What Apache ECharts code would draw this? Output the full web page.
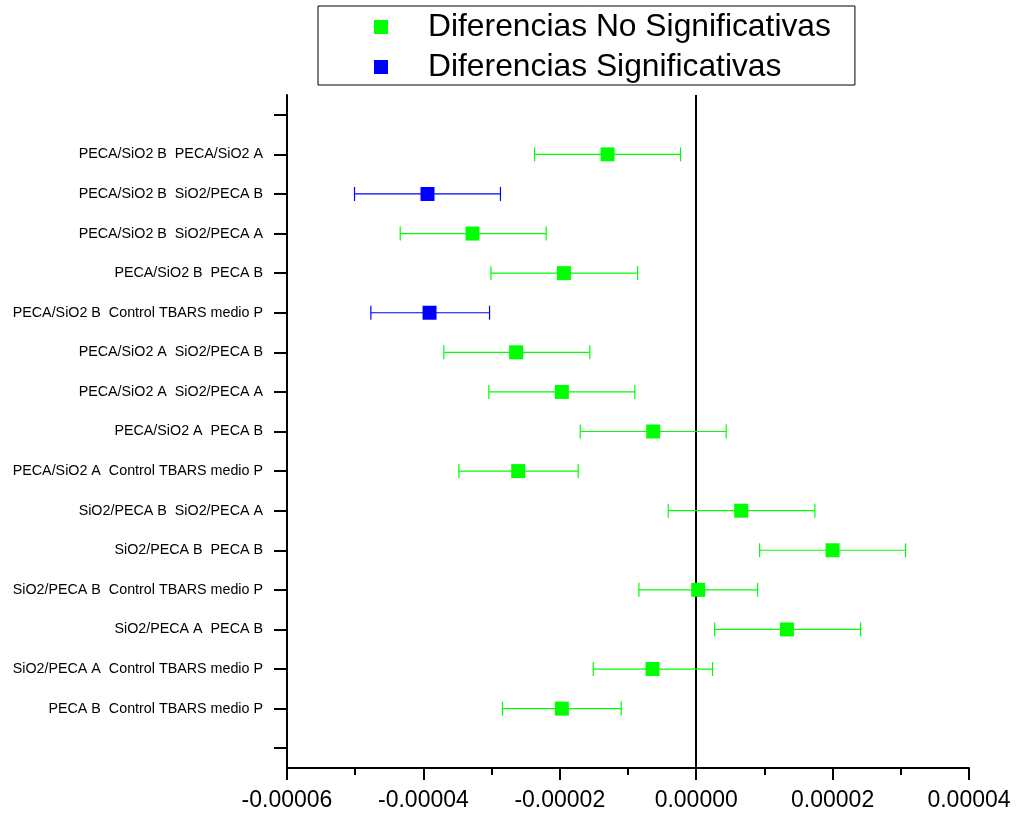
<!DOCTYPE html>
<html>
<head>
<meta charset="utf-8">
<script src="https://cdn.jsdelivr.net/npm/echarts@6/dist/echarts.min.js"></script>
<style>
  html, body { margin: 0; padding: 0; background: #fff; }
  #chart { width: 1023px; height: 820px; }
</style>
</head>
<body>
<div id="chart"></div>
<script>
// comparaciones (de arriba hacia abajo)
const labels = [
  'PECA/SiO2 B  PECA/SiO2 A',
  'PECA/SiO2 B  SiO2/PECA B',
  'PECA/SiO2 B  SiO2/PECA A',
  'PECA/SiO2 B  PECA B',
  'PECA/SiO2 B  Control TBARS medio P',
  'PECA/SiO2 A  SiO2/PECA B',
  'PECA/SiO2 A  SiO2/PECA A',
  'PECA/SiO2 A  PECA B',
  'PECA/SiO2 A  Control TBARS medio P',
  'SiO2/PECA B  SiO2/PECA A',
  'SiO2/PECA B  PECA B',
  'SiO2/PECA B  Control TBARS medio P',
  'SiO2/PECA A  PECA B',
  'SiO2/PECA A  Control TBARS medio P',
  'PECA B  Control TBARS medio P'
]
// diferencia de medias y limites del intervalo
const diff  = [-1.30e-5, -3.94e-5, -3.28e-5, -1.94e-5, -3.91e-5, -2.64e-5, -1.97e-5, -0.63e-5, -2.61e-5, 0.66e-5, 2.00e-5, 0.03e-5, 1.33e-5, -0.64e-5, -1.97e-5]
const lower = [-2.37e-5, -5.01e-5, -4.34e-5, -3.01e-5, -4.77e-5, -3.70e-5, -3.04e-5, -1.70e-5, -3.48e-5, -0.41e-5, 0.93e-5, -0.84e-5, 0.27e-5, -1.51e-5, -2.84e-5]
const upper = [-0.23e-5, -2.87e-5, -2.20e-5, -0.86e-5, -3.03e-5, -1.56e-5, -0.90e-5, 0.44e-5, -1.73e-5, 1.74e-5, 3.07e-5, 0.90e-5, 2.41e-5, 0.24e-5, -1.10e-5]
const significant = [false, true, false, false, true, false, false, false, false, false, false, false, false, false, false]

const xTicks = { min: -0.00006, max: 0.00004, interval: 0.00002 }
const GREEN = '#00ff00'
const BLUE = '#0000ff'

// categorias con un hueco arriba y abajo
const categories = [' '].concat(labels, ['  '])

const nsPoints = [], sPoints = [], bars = []
labels.forEach((name, i) => {
  const row = i + 1 // indice en el eje de categorias
  if (significant[i]) sPoints.push([diff[i], row])
  else nsPoints.push([diff[i], row])
  bars.push({ value: [lower[i], upper[i], row], itemStyle: { color: significant[i] ? BLUE : GREEN } })
})

function renderBar(params, api) {
  const y = api.value(2)
  const a = api.coord([api.value(0), y])
  const b = api.coord([api.value(1), y])
  const c = api.visual('color')
  const h = 7
  const st = { stroke: c, lineWidth: 1.2 }
  return {
    type: 'group',
    children: [
      { type: 'line', shape: { x1: a[0], y1: a[1], x2: b[0], y2: b[1] }, style: st },
      { type: 'line', shape: { x1: a[0], y1: a[1] - h, x2: a[0], y2: a[1] + h }, style: st },
      { type: 'line', shape: { x1: b[0], y1: b[1] - h, x2: b[0], y2: b[1] + h }, style: st }
    ]
  }
}

const chart = echarts.init(document.getElementById('chart'))
chart.setOption({
  animation: false,
  textStyle: { fontFamily: 'Liberation Sans, Arial, sans-serif' },
  legend: {
    orient: 'vertical',
    left: 318,
    top: 6,
    padding: [5, 24, 2, 56],
    borderColor: '#000',
    borderWidth: 1,
    itemWidth: 14,
    itemHeight: 14,
    itemGap: 8,
    icon: 'rect',
    data: ['Diferencias No Significativas', 'Diferencias Significativas'],
    textStyle: { fontSize: 31.8, color: '#000', lineHeight: 31, padding: [0, 0, 0, 35] }
  },
  grid: { left: 287, right: 54, top: 95, bottom: 52 },
  xAxis: {
    type: 'value',
    min: xTicks.min,
    max: xTicks.max,
    interval: xTicks.interval,
    splitLine: { show: false },
    axisLine: { show: true, onZero: false, lineStyle: { color: '#000', width: 2 } },
    axisTick: { show: true, length: 12, lineStyle: { color: '#000', width: 2 } },
    minorTick: { show: true, splitNumber: 2, length: 7, lineStyle: { color: '#000', width: 2 } },
    axisLabel: {
      color: '#000', fontSize: 23, margin: 21,
      formatter: v => (Math.abs(v) < 1e-12 ? 0 : v).toFixed(5)
    }
  },
  yAxis: {
    type: 'category',
    inverse: true,
    data: categories,
    axisLine: { show: true, onZero: false, lineStyle: { color: '#000', width: 2 } },
    axisTick: { show: true, alignWithLabel: true, interval: 0, length: 13, lineStyle: { color: '#000', width: 2 } },
    axisLabel: { interval: 0, color: '#000', fontSize: 14.3, margin: 24 },
    splitLine: { show: false }
  },
  series: [
    {
      type: 'custom',
      name: 'barras',
      renderItem: renderBar,
      encode: { x: [0, 1], y: 2 },
      data: bars,
      z: 2
    },
    {
      type: 'scatter',
      name: 'Diferencias No Significativas',
      symbol: 'rect',
      symbolSize: 14,
      itemStyle: { color: GREEN, opacity: 1 },
      data: nsPoints,
      z: 3,
      markLine: {
        silent: true,
        symbol: 'none',
        label: { show: false },
        lineStyle: { color: '#000', width: 2, type: 'solid' },
        data: [{ xAxis: 0 }],
        z: 1
      }
    },
    {
      type: 'scatter',
      name: 'Diferencias Significativas',
      symbol: 'rect',
      symbolSize: 14,
      itemStyle: { color: BLUE, opacity: 1 },
      data: sPoints,
      z: 3
    }
  ]
})
</script>
</body>
</html>
